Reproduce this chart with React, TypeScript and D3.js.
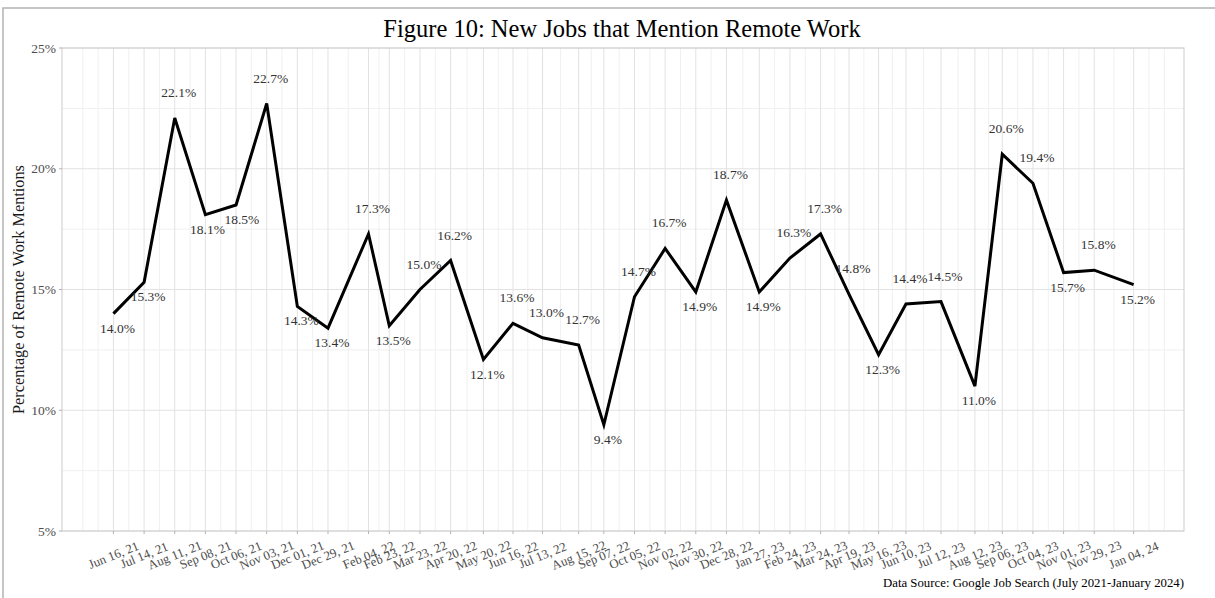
import * as d3 from "d3";

const dates = [
  "2021-06-16", "2021-07-14", "2021-08-11", "2021-09-08", "2021-10-06", "2021-11-03",
  "2021-12-01", "2021-12-29", "2022-02-04", "2022-02-23", "2022-03-23", "2022-04-20",
  "2022-05-20", "2022-06-16", "2022-07-13", "2022-08-15", "2022-09-07", "2022-10-05",
  "2022-11-02", "2022-11-30", "2022-12-28", "2023-01-27", "2023-02-24", "2023-03-24",
  "2023-04-19", "2023-05-16", "2023-06-10", "2023-07-12", "2023-08-12", "2023-09-06",
  "2023-10-04", "2023-11-01", "2023-11-29", "2024-01-04",
];
const values = [
  14.0, 15.3, 22.1, 18.1, 18.5, 22.7, 14.3, 13.4, 17.3, 13.5, 15.0, 16.2,
  12.1, 13.6, 13.0, 12.7, 9.4, 14.7, 16.7, 14.9, 18.7, 14.9, 16.3, 17.3,
  14.8, 12.3, 14.4, 14.5, 11.0, 20.6, 19.4, 15.7, 15.8, 15.2,
];
const yTicks = [5, 10, 15, 20, 25];
const yMinor = [7.5, 12.5, 17.5, 22.5];

const title = "Figure 10: New Jobs that Mention Remote Work";
const yTitle = "Percentage of Remote Work Mentions";
const caption = "Data Source: Google Job Search (July 2021-January 2024)";

const width = 1215;
const height = 598;
const margin = { left: 62, right: 31, top: 48, bottom: 67 };
const font = "'Liberation Serif', 'Times New Roman', serif";
const labelSize = 13.5;

const parse = d3.utcParse("%Y-%m-%d");
const fmt = d3.utcFormat("%b %d, %y");

export default function App() {
  const data = dates.map((d, i) => ({ date: parse(d) as Date, value: values[i] }));
  const day = 86400000;
  const first = data[0].date.getTime();
  const last = data[data.length - 1].date.getTime();

  const x = d3
    .scaleUtc()
    .domain([new Date(first - 47 * day), new Date(last + 46 * day)])
    .range([margin.left, width - margin.right]);
  const y = d3
    .scaleLinear()
    .domain([5, 25])
    .range([height - margin.bottom, margin.top]);

  const x0 = margin.left;
  const x1 = width - margin.right;
  const y0 = height - margin.bottom;
  const y1 = margin.top;

  // minor vertical lines: midpoints between dates plus a couple beyond the ends
  const minorX: number[] = [];
  for (let i = 0; i < data.length - 1; i++) {
    minorX.push((data[i].date.getTime() + data[i + 1].date.getTime()) / 2);
  }
  minorX.push(first - 14 * day, first - 28 * day, last + 14 * day, last + 28 * day);

  const line = d3
    .line<{ date: Date; value: number }>()
    .x((d) => x(d.date))
    .y((d) => y(d.value));

  // label above when the point sits (roughly) above the mean of its neighbours
  const side = data.map((d, i) => {
    const prev = i > 0 ? data[i - 1].value : data[i + 1].value;
    const next = i < data.length - 1 ? data[i + 1].value : data[i - 1].value;
    return d.value >= (prev + next) / 2 - 0.2 ? -1 : 1;
  });

  // crude repel: push neighbouring labels apart when their boxes collide
  const labelW = labelSize * 2.55;
  const labels = data.map((d, i) => ({
    text: d.value.toFixed(1) + "%",
    lx: x(d.date) + 4,
    ly: y(d.value) + (side[i] < 0 ? -21 : 19),
  }));
  for (let pass = 0; pass < 3; pass++) {
    for (let i = 1; i < labels.length; i++) {
      const a = labels[i - 1];
      const b = labels[i];
      const ox = labelW - (b.lx - a.lx);
      const oy = labelSize - Math.abs(b.ly - a.ly);
      if (ox > 0 && oy > 0) {
        a.lx -= ox / 2;
        b.lx += ox / 2;
      }
    }
  }

  return (
    <div style={{ position: "absolute", left: 0, top: 0 }}>
      <svg width={width} height={height} style={{ display: "block", fontFamily: font }}>
        <rect x={0} y={0} width={width} height={height} fill="#fff" />
        {/* outer frame */}
        <rect x={3} y={8} width={width + 10} height={height + 10} fill="none" stroke="#b3b3b3" strokeWidth={1.5} />
        <text x={622} y={37} textAnchor="middle" fontSize={24.5} fill="#000">
          {title}
        </text>

        {/* grid */}
        {yMinor.map((v) => (
          <line key={"ym" + v} x1={x0} x2={x1} y1={y(v)} y2={y(v)} stroke="#f0f0f0" strokeWidth={1} />
        ))}
        {minorX.map((t, i) => (
          <line key={"xm" + i} x1={x(new Date(t))} x2={x(new Date(t))} y1={y1} y2={y0} stroke="#f0f0f0" strokeWidth={1} />
        ))}
        {yTicks.map((v) => (
          <line key={"yg" + v} x1={x0} x2={x1} y1={y(v)} y2={y(v)} stroke="#e2e2e2" strokeWidth={1} />
        ))}
        {data.map((d, i) => (
          <line key={"xg" + i} x1={x(d.date)} x2={x(d.date)} y1={y1} y2={y0} stroke="#e2e2e2" strokeWidth={1} />
        ))}
        <rect x={x0} y={y1} width={x1 - x0} height={y0 - y1} fill="none" stroke="#cccccc" strokeWidth={1} />

        {/* y axis */}
        {yTicks.map((v) => (
          <g key={"yt" + v}>
            <line x1={x0 - 3} x2={x0} y1={y(v)} y2={y(v)} stroke="#b3b3b3" />
            <text x={x0 - 6} y={y(v)} dy="0.35em" textAnchor="end" fontSize={13.5} fill="#4d4d4d">
              {v}%
            </text>
          </g>
        ))}
        <text
          transform={`translate(${24}, ${(y0 + y1) / 2}) rotate(-90)`}
          textAnchor="middle"
          fontSize={16.3}
          fill="#1a1a1a"
        >
          {yTitle}
        </text>

        {/* x axis: labels centred on their ticks */}
        {data.map((d, i) => (
          <g key={"xt" + i} transform={`translate(${x(d.date)}, ${y0})`}>
            <line y1={0} y2={3} stroke="#b3b3b3" />
            <text
              transform="translate(0, 24) rotate(-22)"
              textAnchor="middle"
              dy="0.35em"
              fontSize={12.8}
              fill="#4d4d4d"
            >
              {fmt(d.date)}
            </text>
          </g>
        ))}

        {/* series */}
        <path d={line(data) ?? ""} fill="none" stroke="#000" strokeWidth={3} strokeLinejoin="miter" />
        {labels.map((l, i) => (
          <text key={"lb" + i} x={l.lx} y={l.ly} textAnchor="middle" fontSize={labelSize} fill="#333">
            {l.text}
          </text>
        ))}

        <text x={x1} y={587} textAnchor="end" fontSize={12.8} fill="#000">
          {caption}
        </text>
      </svg>
    </div>
  );
}
